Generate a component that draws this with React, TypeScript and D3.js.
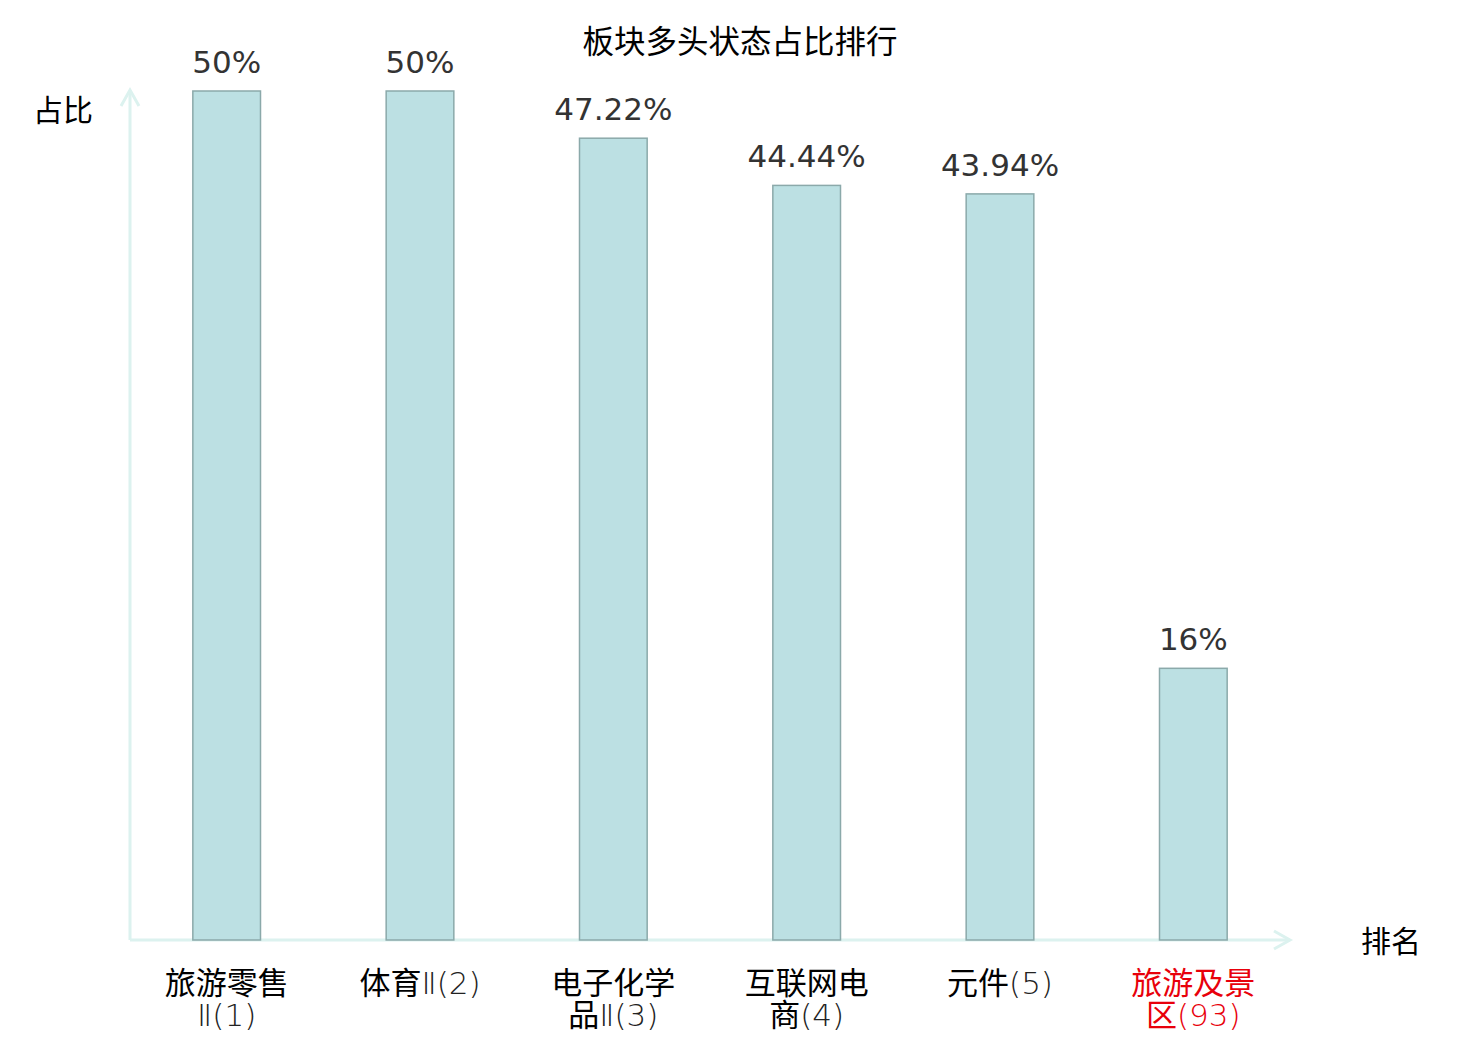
import * as d3 from 'd3';

const title = '板块多头状态占比排行';
const categories = ['旅游零售Ⅱ(1)', '体育Ⅱ(2)', '电子化学品Ⅱ(3)', '互联网电商(4)', '元件(5)', '旅游及景区(93)'];
// label lines as drawn under each bar
const labelLines = [
  ['旅游零售', 'Ⅱ(1)'],
  ['体育Ⅱ(2)'],
  ['电子化学', '品Ⅱ(3)'],
  ['互联网电', '商(4)'],
  ['元件(5)'],
  ['旅游及景', '区(93)'],
];
const values = [50, 50, 47.22, 44.44, 43.94, 16];
const valueLabels = ['50%', '50%', '47.22%', '44.44%', '43.94%', '16%'];
const highlight = [false, false, false, false, false, true];

const cjk = '"Noto Sans CJK SC", "DejaVu Sans", sans-serif';
const latin = '"DejaVu Sans", "Noto Sans CJK SC", sans-serif';

// split a label line so the roman numeral and ascii parts use the latin font
function pieces(s: string) {
  return s.split(/([Ⅱ()0-9]+)/).filter(p => p.length > 0);
}

export default function App() {
  const width = 1480;
  const height = 1040;
  const x0 = 130;
  const x1 = 1290;
  const yBase = 940;

  const xScale = d3.scaleBand<string>()
    .domain(categories)
    .range([x0, x1])
    .paddingInner(0.65)
    .paddingOuter(0.325);

  const yScale = d3.scaleLinear().domain([0, 50]).range([yBase, 91]);
  const axisColor = '#dcf2ef';

  return (
    <svg width={width} height={height} style={{ position: 'absolute', left: 0, top: 0, background: '#fff' }}>
      <text x={740} y={53} textAnchor="middle" fontSize={31.5} fontFamily={cjk} fill="#000">
        {title}
      </text>

      {/* axes with open arrows */}
      <line x1={x0} x2={x0} y1={yBase} y2={90} stroke={axisColor} strokeWidth={3} />
      <polyline points={`${x0 - 9},${106} ${x0},${90} ${x0 + 9},${106}`} fill="none" stroke={axisColor} strokeWidth={3} />
      <line x1={x0} x2={x1} y1={yBase} y2={yBase} stroke={axisColor} strokeWidth={3} />
      <polyline points={`${x1 - 16},${yBase - 9} ${x1},${yBase} ${x1 - 16},${yBase + 9}`} fill="none" stroke={axisColor} strokeWidth={3} />

      <text x={63} y={121} textAnchor="middle" fontSize={30} fontFamily={cjk} fill="#000">占比</text>
      <text x={1391} y={952} textAnchor="middle" fontSize={30} fontFamily={cjk} fill="#000">排名</text>

      {categories.map((c, i) => {
        const bx = xScale(c) as number;
        const bw = xScale.bandwidth();
        const by = yScale(values[i]);
        const cx = bx + bw / 2;
        return (
          <g key={c}>
            <rect x={bx} y={by} width={bw} height={yBase - by} fill="#bce0e3" stroke="#8ba9aa" strokeWidth={1.5} />
            <text x={cx} y={by - 18} textAnchor="middle" fontSize={31} fontFamily={latin} fill="#333">
              {valueLabels[i]}
            </text>
            <text textAnchor="middle" fontSize={31} fontFamily={cjk} fill={highlight[i] ? '#e8000b' : '#000'}>
              {labelLines[i].map((ln, j) => (
                <tspan key={j} x={cx} y={994 + j * 32}>
                  {pieces(ln).map((p, k) =>
                    /[Ⅱ()0-9]/.test(p)
                      ? <tspan key={k} fontFamily={latin} fontWeight={300} fill={highlight[i] ? '#e8000b' : '#222'}>{p}</tspan>
                      : <tspan key={k}>{p}</tspan>
                  )}
                </tspan>
              ))}
            </text>
          </g>
        );
      })}
    </svg>
  );
}
